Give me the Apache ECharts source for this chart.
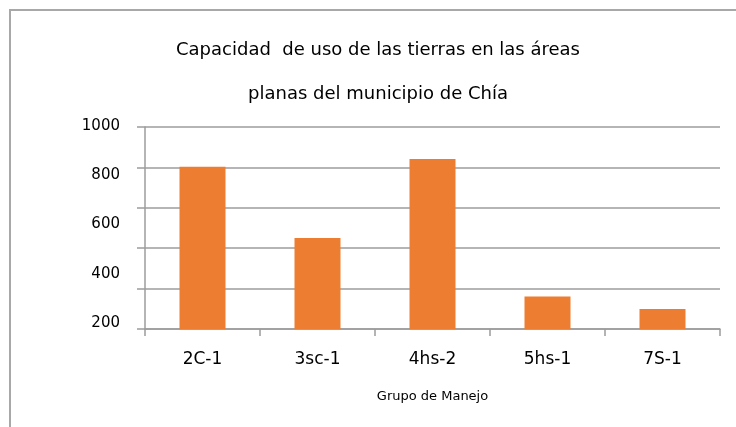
<!DOCTYPE html>
<html>
<head>
<meta charset="utf-8">
<script src="https://cdn.jsdelivr.net/npm/echarts@6/dist/echarts.min.js"></script>
<style>
html,body{margin:0;padding:0;background:#fff;}
#chart{width:736px;height:427px;}
</style>
</head>
<body>
<div id="chart"></div>
<script>
const titleLines = ['Capacidad  de uso de las tierras en las áreas', 'planas del municipio de Chía'];
const xAxisName = 'Grupo de Manejo';
const categories = ['2C-1', '3sc-1', '4hs-2', '5hs-1', '7S-1'];
const values = [843, 560, 873, 329, 279];
const yMin = 200, yMax = 1000, yStep = 200;
const gridLineCount = 5; // spaces between the six horizontal lines

const axisGrey = '#9c9c9c';
const font = 'DejaVu Sans';

const chart = echarts.init(document.getElementById('chart'), null, {renderer: 'canvas'});
chart.setOption({
  animation: false,
  backgroundColor: '#fff',
  title: {
    text: titleLines.join('\n'),
    left: 378,
    top: 28,
    padding: 0,
    textAlign: 'center',
    textStyle: {fontFamily: font, fontSize: 18, fontWeight: 'normal', color: '#000', lineHeight: 44}
  },
  graphic: [{
    type: 'rect', silent: true, z: -1,
    shape: {x: 10, y: 10, width: 1000, height: 700},
    style: {fill: 'none', stroke: '#a8a8a8', lineWidth: 2}
  }],
  grid: [
    {left: 145, right: 16, top: 127, bottom: 98, containLabel: false},
    {left: 145, right: 16, top: 126, bottom: 104, containLabel: false}
  ],
  xAxis: [{
    type: 'category', gridIndex: 0, data: categories,
    axisLine: {lineStyle: {color: axisGrey, width: 1.5}},
    axisTick: {show: true, length: 7, alignWithLabel: false, lineStyle: {color: axisGrey, width: 1.5}},
    axisLabel: {fontFamily: font, fontSize: 17, color: '#000', margin: 22},
    name: xAxisName, nameLocation: 'middle', nameGap: 61,
    nameTextStyle: {fontFamily: font, fontSize: 13, color: '#000'}
  }, {
    type: 'category', gridIndex: 1, data: categories, show: false
  }],
  yAxis: [{
    type: 'value', gridIndex: 0, min: yMin, max: yMax, interval: yStep,
    axisLine: {show: false}, axisTick: {show: false}, axisLabel: {show: false}, splitLine: {show: false}
  }, {
    type: 'value', gridIndex: 0, position: 'left', min: 0, max: gridLineCount, interval: 1,
    axisLine: {show: true, lineStyle: {color: axisGrey, width: 1.5}},
    axisTick: {show: true, length: 8, lineStyle: {color: axisGrey, width: 1.5}},
    axisLabel: {show: false},
    splitLine: {show: true, lineStyle: {color: axisGrey, width: 1.5}}
  }, {
    type: 'value', gridIndex: 1, position: 'left', min: yMin, max: yMax, interval: yStep,
    axisLine: {show: false}, axisTick: {show: false}, splitLine: {show: false},
    axisLabel: {fontFamily: font, fontSize: 15, color: '#000', margin: 25, formatter: v => String(v)}
  }],
  series: [{
    type: 'bar', xAxisIndex: 0, yAxisIndex: 0, data: values,
    barWidth: '40%',
    itemStyle: {color: '#ED7D31'}
  }]
});
</script>
</body>
</html>
